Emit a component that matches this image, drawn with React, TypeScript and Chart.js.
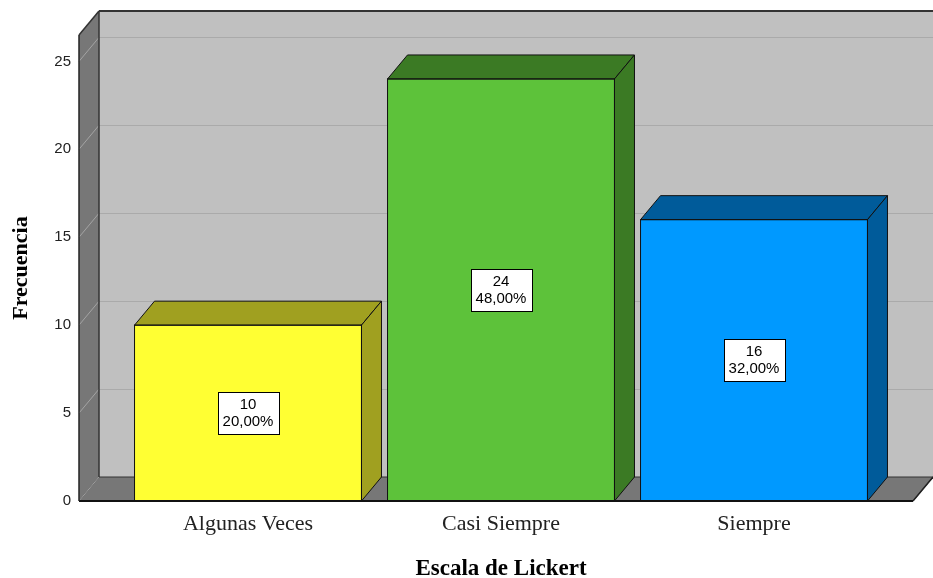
import React, { useEffect, useRef } from "react";
import { Chart, registerables } from "chart.js";

Chart.register(...registerables);

// ---- data ----
const categories = ["Algunas Veces", "Casi Siempre", "Siempre"];
const frequencies = [10, 24, 16];
const percentages = ["20,00%", "48,00%", "32,00%"];
const yTicks = [0, 5, 10, 15, 20, 25];
const yMax = 26.5;

// ---- styles ----
const frontColors = ["#ffff33", "#5dc23a", "#0099ff"];
const sideColors = ["#a0a020", "#3b7a24", "#005b9a"];
const DX = 20;
const DY = -24;
const EXT_L = 42.5;
const EXT_R = 32.5;

function poly(ctx: CanvasRenderingContext2D, pts: number[][], fill: string | null, stroke: string | null, lw = 1) {
  ctx.beginPath();
  ctx.moveTo(pts[0][0], pts[0][1]);
  for (let i = 1; i < pts.length; i++) ctx.lineTo(pts[i][0], pts[i][1]);
  ctx.closePath();
  if (fill) {
    ctx.fillStyle = fill;
    ctx.fill();
  }
  if (stroke) {
    ctx.strokeStyle = stroke;
    ctx.lineWidth = lw;
    ctx.stroke();
  }
}

function line(ctx: CanvasRenderingContext2D, x1: number, y1: number, x2: number, y2: number, color: string, lw = 1) {
  ctx.beginPath();
  ctx.moveTo(x1, y1);
  ctx.lineTo(x2, y2);
  ctx.strokeStyle = color;
  ctx.lineWidth = lw;
  ctx.stroke();
}

const threeD = {
  id: "threeD",
  beforeDatasetsDraw(chart: any) {
    const { ctx, chartArea, scales } = chart;
    const { left, right, top, bottom } = chartArea;
    const y = scales.y;
    const L = left - EXT_L;
    const R = right + EXT_R;
    ctx.save();
    // back wall
    ctx.fillStyle = "#c0c0c0";
    ctx.fillRect(L + DX, top + DY, R - L, bottom - top);
    // back wall grid
    yTicks.forEach((v) => {
      if (v === 0) return;
      const py = Math.round(y.getPixelForValue(v) + DY) + 0.5;
      line(ctx, L + DX, py, R + DX, py, "#aaaaaa", 1);
    });
    // left wall
    poly(ctx, [[L, top], [L + DX, top + DY], [L + DX, bottom + DY], [L, bottom]], "#777777", null);
    // floor
    poly(ctx, [[L, bottom], [L + DX, bottom + DY], [R + DX, bottom + DY], [R, bottom]], "#777777", "#333333", 1);
    // left wall grid (diagonals)
    yTicks.forEach((v) => {
      const py = y.getPixelForValue(v);
      line(ctx, L, py, L + DX, py + DY, "#a4a4a4", 1);
    });
    // edges
    line(ctx, L + DX, top + DY, L + DX, bottom + DY, "#333333", 1.5);
    line(ctx, L, top, L + DX, top + DY, "#333333", 1.5);
    line(ctx, L + DX, top + DY, R + DX, top + DY, "#333333", 2);
    ctx.restore();
  },
  afterDatasetsDraw(chart: any) {
    const { ctx, chartArea } = chart;
    const { left, right, top, bottom } = chartArea;
    const L = left - EXT_L;
    const R = right + EXT_R;
    const meta = chart.getDatasetMeta(0);
    ctx.save();
    meta.data.forEach((bar: any, i: number) => {
      const p = bar.getProps(["x", "y", "width", "base"], true);
      const l = p.x - p.width / 2;
      const r = p.x + p.width / 2;
      const t = p.y;
      const b = p.base;
      // top face
      poly(ctx, [[l, t], [l + DX, t + DY], [r + DX, t + DY], [r, t]], sideColors[i], "#111111", 1);
      // side face
      poly(ctx, [[r, t], [r + DX, t + DY], [r + DX, b + DY], [r, b]], sideColors[i], "#111111", 1);
      // front outline
      ctx.strokeStyle = "#111111";
      ctx.lineWidth = 1;
      ctx.strokeRect(l, t, r - l, b - t);
      // label box
      const cy = (t + b) / 2;
      const bw = 61;
      const bh = 42;
      ctx.fillStyle = "#ffffff";
      ctx.fillRect(Math.round(p.x - bw / 2) + 0.5, Math.round(cy - bh / 2) + 0.5, bw, bh);
      ctx.strokeStyle = "#000000";
      ctx.strokeRect(Math.round(p.x - bw / 2) + 0.5, Math.round(cy - bh / 2) + 0.5, bw, bh);
      ctx.fillStyle = "#000000";
      ctx.font = '15px "Liberation Sans", Arial, sans-serif';
      ctx.textAlign = "center";
      ctx.textBaseline = "middle";
      ctx.fillText(String(frequencies[i]), p.x, cy - 8);
      ctx.fillText(percentages[i], p.x, cy + 9);
    });
    // front axis lines
    line(ctx, L, bottom, R, bottom, "#111111", 2);
    line(ctx, L, top, L, bottom, "#222222", 1.5);
    line(ctx, R, bottom, R + DX, bottom + DY, "#222222", 1.5);
    ctx.restore();
  },
};

export default function App() {
  const ref = useRef<HTMLCanvasElement>(null);
  useEffect(() => {
    if (!ref.current) return;
    const chart = new Chart(ref.current, {
      type: "bar",
      data: {
        labels: categories,
        datasets: [
          {
            data: frequencies,
            backgroundColor: frontColors,
            borderWidth: 0,
            categoryPercentage: 0.897,
            barPercentage: 1.0,
          },
        ],
      },
      options: {
        animation: false,
        responsive: false,
        devicePixelRatio: 1,
        layout: { padding: { top: 35, right: 52.5, left: 0, bottom: 0 } },
        plugins: {
          legend: { display: false },
          tooltip: { enabled: false },
        },
        scales: {
          x: {
            type: "category",
            grid: { display: false, drawTicks: false },
            border: { display: false },
            ticks: {
              padding: 10,
              color: "#222222",
              font: { family: '"Liberation Serif", "Times New Roman", serif', size: 22 },
              maxRotation: 0,
            },
            title: {
              display: true,
              text: "Escala de Lickert",
              color: "#000000",
              font: { family: '"Liberation Serif", "Times New Roman", serif', size: 23, weight: "bold", lineHeight: 0.75 },
              padding: { top: 0, bottom: 0 },
            },
            afterFit: (scale: any) => {
              scale.height = 77;
              scale.paddingLeft = 0;
              scale.paddingRight = 0;
            },
          },
          y: {
            min: 0,
            max: yMax,
            grid: { display: false, drawTicks: false },
            border: { display: false },
            ticks: {
              padding: 50.5,
              color: "#222222",
              font: { family: '"Liberation Sans", Arial, sans-serif', size: 15 },
            },
            afterBuildTicks: (scale: any) => {
              scale.ticks = yTicks.map((v) => ({ value: v }));
            },
            title: {
              display: true,
              text: "Frecuencia",
              color: "#000000",
              font: { family: '"Liberation Serif", "Times New Roman", serif', size: 22, weight: "bold", lineHeight: 1.2 },
              padding: { top: 8, bottom: 0 },
            },
            afterFit: (scale: any) => {
              scale.width = 121.5;
              scale.paddingTop = 0;
              scale.paddingBottom = 0;
            },
          },
        },
      },
      plugins: [threeD],
    } as any);
    return () => chart.destroy();
  }, []);
  return (
    <div style={{ position: "fixed", left: 0, top: 0, width: 933, height: 578, background: "#ffffff" }}>
      <canvas ref={ref} width={933} height={578} style={{ display: "block" }} />
    </div>
  );
}
